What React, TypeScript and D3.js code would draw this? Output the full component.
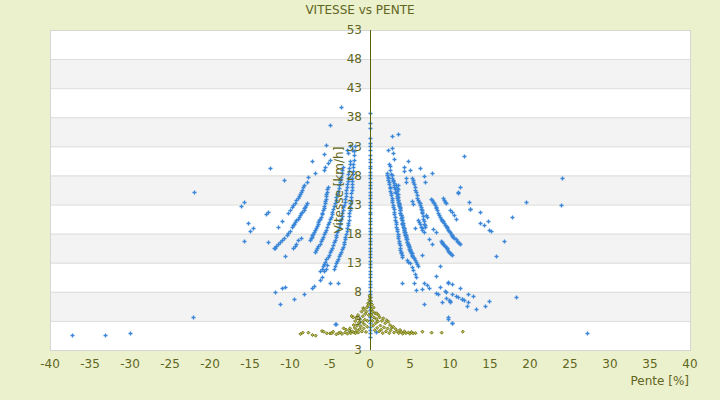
import React, { useEffect, useRef } from "react";
import * as d3 from "d3";

type Pt = [number, number];

const xTicks = [-40, -35, -30, -25, -20, -15, -10, -5, 0, 5, 10, 15, 20, 25, 30, 35, 40];
const yTicks = [-2, 3, 8, 13, 18, 23, 28, 33, 38, 43, 48, 53];
const yTickLabels = ["3", "3", "8", "13", "18", "23", "28", "33", "38", "43", "48", "53"];

// vitesse at zero slope (stack on the axis)
const blueOnAxis = [
	0.3, 0.9, 1.4, 2.0, 2.6, 3.1, 3.7, 4.3, 4.8, 5.4, 6.0, 6.5, 7.1, 7.7, 8.2, 8.8, 9.4, 9.9, 10.5, 11.1, 11.6, 12.2,
	12.8, 13.3, 13.9, 14.5, 15.0, 15.6, 16.2, 16.7, 17.3, 17.9, 18.4, 19.0, 19.6, 20.1, 20.7, 21.3, 21.8, 22.4, 23.0,
	23.5, 24.1, 24.7, 25.2, 25.8, 26.4, 26.9, 27.5, 28.1, 28.6, 29.2, 29.6, 30.3, 30.9, 31.5, 32.3, 33.0, 33.6, 34.4,
	36.1, 37.0, 38.8,
];

// descente (negative slope) arcs
const blueLeftArcs: Pt[] = [
	[-1.9, 33.0], [-1.95, 32.2], [-2.0, 31.5], [-2.05, 30.7], [-2.1, 30.0], [-2.12, 29.4], [-2.15, 28.8], [-2.18, 28.2],
	[-2.2, 27.6], [-2.22, 27.0], [-2.25, 26.5], [-2.28, 26.0], [-2.3, 25.5], [-2.35, 24.9], [-2.4, 24.3], [-2.42, 23.7],
	[-2.45, 23.2], [-2.5, 22.6], [-2.55, 22.1], [-2.58, 21.5], [-2.6, 21.0], [-2.65, 20.4], [-2.7, 19.9], [-2.78, 19.4],
	[-2.85, 18.9], [-2.92, 18.4], [-3.0, 17.9], [-3.08, 17.4], [-3.15, 17.0], [-3.22, 16.6], [-3.3, 16.2], [-3.4, 15.7],
	[-3.5, 15.3], [-3.6, 14.9], [-3.7, 14.5], [-3.82, 14.1], [-3.95, 13.7], [-4.08, 13.3], [-4.2, 12.9], [-4.35, 12.4],
	[-4.5, 12.0],
	[-2.5, 30.5], [-2.55, 29.9], [-2.6, 29.3], [-2.65, 28.7], [-2.7, 28.2], [-2.75, 27.6], [-2.8, 27.1], [-2.85, 26.5],
	[-2.9, 26.0], [-2.95, 25.5], [-3.0, 25.0], [-3.05, 24.5], [-3.1, 24.0], [-3.18, 23.5], [-3.25, 23.0], [-3.32, 22.5],
	[-3.4, 22.0], [-3.48, 21.5], [-3.55, 21.0], [-3.62, 20.5], [-3.7, 20.1], [-3.8, 19.6], [-3.9, 19.2], [-4.0, 18.7],
	[-4.1, 18.3], [-4.2, 17.8], [-4.3, 17.4], [-4.42, 16.9], [-4.55, 16.5], [-4.68, 16.0], [-4.8, 15.6], [-4.92, 15.2],
	[-5.05, 14.8], [-5.18, 14.4], [-5.3, 14.0], [-5.45, 13.6], [-5.6, 13.2], [-5.75, 12.8], [-5.9, 12.4], [-6.05, 12.0],
	[-6.2, 11.6],
	[-3.4, 29.5], [-3.48, 28.9], [-3.55, 28.4], [-3.62, 27.8], [-3.7, 27.3], [-3.78, 26.8], [-3.85, 26.3], [-3.92, 25.8],
	[-4.0, 25.3], [-4.1, 24.8], [-4.2, 24.3], [-4.3, 23.8], [-4.4, 23.3], [-4.5, 22.8], [-4.6, 22.3], [-4.7, 21.8],
	[-4.8, 21.4], [-4.9, 20.9], [-5.0, 20.5], [-5.12, 20.0], [-5.25, 19.6], [-5.38, 19.1], [-5.5, 18.7], [-5.62, 18.3],
	[-5.75, 17.9], [-5.88, 17.5], [-6.0, 17.1], [-6.15, 16.7], [-6.3, 16.3], [-6.45, 15.9], [-6.6, 15.6], [-6.75, 15.2],
	[-6.9, 14.9],
	[-5.3, 26.1], [-5.35, 25.7], [-5.4, 25.2], [-5.45, 24.8], [-5.5, 24.4], [-5.55, 24.0], [-5.6, 23.6], [-5.65, 23.2],
	[-5.7, 22.8], [-5.78, 22.4], [-5.85, 22.0], [-5.95, 21.6], [-6.05, 21.3], [-6.15, 20.9], [-6.25, 20.6], [-6.35, 20.3],
	[-6.45, 20.0], [-6.55, 19.6], [-6.65, 19.3], [-6.78, 18.9], [-6.9, 18.6], [-7.0, 18.3], [-7.1, 18.0], [-7.2, 17.7],
	[-7.3, 17.5], [-7.4, 17.2], [-7.5, 16.9],
	[-10.2, 21.6], [-10.0, 22.1], [-9.8, 22.5], [-9.6, 22.9], [-9.4, 23.3], [-9.2, 23.7], [-9.0, 24.1], [-8.9, 24.5],
	[-8.75, 24.8], [-8.6, 25.2], [-8.5, 25.5], [-8.35, 26.0], [-8.2, 26.4], [-7.9, 26.9], [-7.8, 27.7],
	[-11.9, 15.5], [-11.7, 15.85], [-11.5, 16.2], [-11.25, 16.5], [-11.0, 16.9], [-10.7, 17.3], [-10.4, 17.8],
	[-10.2, 18.1], [-10.0, 18.5], [-9.8, 19.1], [-9.65, 19.4], [-9.5, 19.7], [-9.35, 20.0], [-9.2, 20.3], [-9.05, 20.6],
	[-8.9, 20.9], [-8.75, 21.2], [-8.6, 21.5], [-8.45, 21.8], [-8.3, 22.1], [-8.2, 22.35], [-8.1, 22.6], [-8.0, 22.9],
	[-7.9, 23.2],
	[-9.6, 15.5], [-9.4, 15.9], [-9.2, 16.3], [-8.95, 16.9], [-8.6, 17.2],
];

const blueLeftScatter: Pt[] = [
	[-3.6, 39.7], [-5.0, 36.7], [-5.5, 33.2], [-5.7, 31.7], [-7.2, 30.4], [-12.5, 29.2], [-10.7, 27.2], [-22.0, 25.1],
	[-15.7, 23.4], [-16.1, 22.7], [-13.0, 21.3], [-12.7, 21.7], [-11.0, 20.1], [-11.5, 19.1], [-15.3, 19.9],
	[-15.0, 18.4], [-14.6, 18.9], [-15.8, 16.7], [-12.7, 16.5], [-12.0, 15.5], [-10.6, 14.1], [-5.8, 28.9],
	[-5.6, 29.5], [-5.2, 30.1], [-5.0, 30.7], [-6.9, 28.4], [-2.9, 32.4], [-2.7, 31.9], [-2.5, 33.0], [-2.3, 32.3],
	[-6.25, 10.0], [-6.04, 10.6], [-5.75, 11.5], [-5.5, 12.0], [-5.33, 12.6], [-5.0, 9.5], [-4.0, 9.5], [-11.9, 8.0],
	[-11.0, 8.6], [-10.6, 8.9], [-11.25, 5.9], [-9.5, 6.7], [-8.2, 7.7], [-7.3, 8.6], [-6.96, 9.06], [-22.1, 3.6],
	[-37.2, 0.5], [-33.1, 0.5], [-30.0, 0.9], [-4.35, 2.4], [-4.3, 2.5], [-2.5, 1.3],
];

// montée (positive slope) arcs
const blueRightArcs: Pt[] = [
	[2.1, 28.4], [2.15, 28.1], [2.2, 27.8], [2.25, 27.5], [2.3, 27.2], [2.35, 26.8], [2.4, 26.5], [2.45, 26.1],
	[2.5, 25.8], [2.55, 25.4], [2.6, 25.0], [2.65, 24.6], [2.7, 24.2], [2.75, 23.8], [2.8, 23.4], [2.85, 23.0],
	[2.9, 22.6], [2.95, 22.2], [3.0, 21.8], [3.05, 21.3], [3.1, 20.9], [3.15, 20.4], [3.2, 20.0], [3.25, 19.6],
	[3.3, 19.2], [3.35, 18.8], [3.4, 18.4], [3.45, 18.0], [3.5, 17.6], [3.55, 17.2], [3.6, 16.8], [3.65, 16.4],
	[3.7, 16.0], [3.75, 15.6], [3.8, 15.2], [3.85, 14.9], [3.9, 14.6], [3.95, 14.3], [4.0, 14.0],
	[2.6, 28.3], [2.7, 28.0], [2.8, 27.6], [2.85, 27.3], [2.9, 27.0], [2.95, 26.7], [3.0, 26.4], [3.05, 26.0],
	[3.1, 25.6], [3.18, 25.2], [3.25, 24.9], [3.32, 24.5], [3.4, 24.2], [3.48, 23.8], [3.55, 23.5], [3.6, 23.1],
	[3.65, 22.8], [3.7, 22.4], [3.75, 22.1], [3.8, 21.6], [3.85, 21.2], [3.9, 20.7], [3.95, 20.3], [4.0, 19.9],
	[4.05, 19.6], [4.12, 19.2], [4.2, 18.9], [4.25, 18.6], [4.3, 18.3], [4.35, 18.0], [4.4, 17.8], [4.48, 17.4],
	[4.55, 17.0], [4.62, 16.6], [4.7, 16.3], [4.78, 16.0], [4.85, 15.7], [4.92, 15.4], [5.0, 15.2], [5.1, 14.9],
	[5.2, 14.6], [5.3, 14.3], [5.4, 14.0],
	[3.3, 26.3], [3.35, 25.8], [3.4, 25.3], [3.45, 24.8], [3.5, 24.3], [3.55, 23.8], [3.6, 23.3], [3.65, 22.9],
	[3.7, 22.5], [3.75, 22.0], [3.8, 21.6], [3.87, 21.2], [3.95, 20.8], [4.0, 20.3], [4.08, 19.9], [4.17, 19.4],
	[4.25, 19.0], [4.3, 18.6], [4.375, 18.2], [4.45, 17.8], [4.5, 17.4], [4.58, 17.0], [4.65, 16.6], [4.75, 16.2],
	[4.85, 15.8], [4.95, 15.4], [5.05, 15.0], [5.15, 14.6], [5.3, 14.2], [5.45, 13.8], [5.6, 13.5], [5.75, 13.1],
	[5.9, 12.7], [6.05, 12.4],
	[5.3, 27.5], [5.35, 27.2], [5.4, 26.9], [5.5, 26.5], [5.6, 26.0], [5.67, 25.5], [5.75, 25.1], [5.82, 24.6],
	[5.9, 24.2], [6.0, 23.8], [6.1, 23.5], [6.2, 23.2], [6.25, 22.9], [6.33, 22.6], [6.4, 22.3], [6.46, 22.1],
	[6.5, 21.8], [6.54, 21.5], [6.6, 21.0], [6.67, 20.5], [6.75, 20.1], [6.8, 19.7], [6.85, 19.4], [6.9, 19.1],
	[6.05, 20.4], [6.15, 20.0], [6.25, 19.6], [6.35, 19.2], [6.45, 18.9], [6.55, 18.6], [6.7, 18.3],
	[7.6, 23.9], [7.75, 23.7], [7.9, 23.5], [8.0, 23.2], [8.1, 22.9], [8.2, 22.6], [8.3, 22.4], [8.4, 22.0],
	[8.5, 21.5], [8.6, 21.2], [8.75, 20.9], [8.85, 20.6], [8.96, 20.3], [9.05, 20.2], [9.17, 20.1], [9.27, 19.8],
	[9.375, 19.5], [9.48, 19.35], [9.58, 19.2], [9.68, 18.9], [9.79, 18.6], [9.9, 18.4], [10.0, 18.2], [10.1, 18.0],
	[10.2, 17.8], [10.3, 17.65], [10.4, 17.5], [10.55, 17.25], [10.75, 17.0], [10.85, 16.8], [11.0, 16.6],
	[11.1, 16.45], [11.25, 16.3],
	[8.9, 16.8], [8.96, 16.6], [9.05, 16.4], [9.17, 16.2], [9.27, 16.0], [9.375, 15.8], [9.48, 15.65], [9.58, 15.5],
	[9.68, 15.3], [9.79, 15.1], [9.9, 14.9], [10.0, 14.7], [10.1, 14.5], [10.2, 14.3],
	[9.17, 24.1], [9.3, 23.8], [9.375, 23.5], [9.5, 23.2], [10.0, 22.1], [10.2, 21.8], [10.5, 21.2], [10.75, 20.5],
];

const blueRightScatter: Pt[] = [
	[2.7, 34.8], [3.5, 35.2], [2.3, 32.4], [2.8, 32.7], [2.9, 31.8], [3.0, 30.8], [2.4, 30.0], [2.5, 29.6],
	[2.45, 28.9], [4.2, 29.4], [4.3, 28.8], [4.8, 30.5], [5.0, 28.9], [6.3, 29.2], [6.7, 27.9], [6.9, 26.8],
	[7.8, 28.4], [4.5, 27.5], [4.5, 26.8], [3.5, 26.4], [3.5, 25.6], [11.7, 31.4], [11.3, 26.1], [11.0, 25.0],
	[11.05, 25.1], [12.4, 23.5], [12.5, 22.2], [12.55, 22.3], [13.7, 21.7], [13.8, 19.9], [14.3, 19.5], [14.7, 20.2],
	[14.9, 18.6], [15.1, 18.4], [15.8, 14.15], [16.7, 16.7], [17.7, 20.8], [19.5, 23.4], [23.9, 23.0], [24.0, 27.5],
	[18.2, 7.05], [27.1, 0.86], [10.2, 2.58], [0.7, 1.15], [5.3, 23.6], [5.4, 23.1], [5.6, 18.9], [7.9, 18.8],
	[8.2, 18.2], [7.4, 17.0], [7.7, 16.3], [7.0, 21.2], [7.1, 20.8], [6.5, 14.3], [8.7, 12.4], [8.2, 10.7], [4.0, 9.6],
	[4.6, 13.5], [4.8, 13.2], [5.0, 12.9], [5.2, 12.3], [5.4, 11.8], [5.6, 11.1], [5.8, 10.5], [5.5, 9.6], [5.8, 8.3],
	[6.5, 8.4], [6.7, 9.5], [7.1, 9.1], [7.4, 8.6], [6.8, 5.85], [8.3, 7.75], [8.5, 7.6], [8.8, 8.8], [9.0, 6.2],
	[9.375, 8.15], [9.46, 6.9], [9.875, 6.6], [9.5, 8.0], [9.7, 9.75], [9.8, 9.5], [10.0, 6.3], [10.05, 6.4],
	[10.2, 9.3], [10.2, 7.6], [10.7, 7.3], [11.0, 7.05], [11.2, 8.6], [11.45, 6.8], [11.5, 6.7], [11.75, 6.6],
	[12.1, 5.6], [12.3, 7.7], [12.3, 6.3], [12.9, 7.3], [13.2, 5.0], [14.4, 5.5], [14.9, 6.5], [9.7, 3.7], [9.8, 3.4],
	[10.2, 2.6],
];

// second series (low speeds)
const oliveLeft: Pt[] = [
	[-8.7, 0.75], [-8.4, 0.98], [-7.7, 0.98], [-7.2, 0.58], [-6.8, 0.47], [-6.0, 1.26], [-5.8, 1.15], [-5.4, 0.86],
	[-5.0, 0.86], [-4.8, 0.86], [-4.6, 1.15], [-4.2, 0.69], [-3.9, 0.9], [-3.7, 1.03], [-3.5, 0.75], [-3.3, 1.72],
	[-3.1, 1.0], [-3.0, 1.5], [-2.8, 0.8], [-2.6, 1.3], [-2.5, 1.72], [-2.4, 0.9], [-2.3, 3.84], [-2.2, 1.2],
	[-2.1, 3.6], [-2.05, 2.3], [-1.95, 1.0], [-1.9, 1.8], [-1.85, 2.98], [-1.8, 0.9], [-1.7, 3.55], [-1.65, 1.4],
	[-1.6, 2.2], [-1.5, 4.0], [-1.45, 1.0], [-1.4, 2.7], [-1.3, 1.6], [-1.25, 3.3], [-1.15, 2.1], [-1.05, 4.6],
	[-1.0, 1.2], [-0.95, 2.8], [-0.9, 3.8], [-0.85, 5.2], [-0.8, 1.7], [-0.75, 5.0], [-0.7, 2.4], [-0.65, 3.2],
	[-0.6, 4.2], [-0.5, 1.1], [-0.45, 4.6], [-0.4, 5.3], [-0.35, 2.0], [-0.3, 3.0], [-0.25, 6.0], [-0.2, 5.7],
	[-0.15, 4.0], [-0.1, 6.6], [-0.05, 7.3],
];

const oliveRight: Pt[] = [
	[0.05, 7.0], [0.1, 6.4], [0.15, 5.0], [0.2, 4.0], [0.25, 5.8], [0.3, 3.0], [0.35, 4.6], [0.4, 2.2], [0.45, 5.3],
	[0.5, 3.6], [0.6, 1.4], [0.65, 4.3], [0.7, 2.6], [0.8, 3.3], [0.83, 4.3], [0.9, 1.8], [1.0, 2.9], [1.05, 4.0],
	[1.15, 1.2], [1.2, 3.6], [1.3, 2.2], [1.4, 1.5], [1.5, 3.0], [1.6, 0.9], [1.67, 3.44], [1.75, 1.9], [1.9, 2.6],
	[2.0, 1.2], [2.1, 3.1], [2.2, 1.7], [2.29, 2.87], [2.4, 0.9], [2.5, 2.3], [2.6, 1.4], [2.75, 1.9], [2.9, 2.0],
	[3.0, 1.0], [3.2, 1.6], [3.4, 1.2], [3.6, 0.9], [3.75, 1.44], [3.9, 1.1], [4.1, 0.8], [4.3, 1.2], [4.5, 0.9],
	[4.8, 1.0], [5.0, 0.8], [5.2, 1.1], [5.4, 0.86], [5.7, 0.9], [6.55, 1.15], [7.7, 0.98], [8.96, 0.98], [11.6, 1.15],
];

const textColor = "#5f6622";
const font = "DejaVu Sans, Verdana, sans-serif";

function draw(ref: SVGSVGElement | null) {
	if (!ref) return;
	const svg = d3.select(ref);
	svg.selectAll("*").remove();

	const x = d3.scaleLinear().domain([-40, 40]).range([50, 690]);
	const y = d3.scaleLinear().domain([-2, 53]).range([350, 30]);

	svg.append("rect").attr("width", 720).attr("height", 400).attr("fill", "#ebf0cd");

	// alternating bands
	svg.append("g")
		.selectAll("rect")
		.data(d3.pairs(yTicks))
		.join("rect")
		.attr("x", x(-40))
		.attr("width", x(40) - x(-40))
		.attr("y", (d) => y(d[1]))
		.attr("height", (d) => y(d[0]) - y(d[1]))
		.attr("fill", (_, i) => (i % 2 ? "#f3f3f3" : "#ffffff"));

	svg.append("g")
		.selectAll("line")
		.data(yTicks)
		.join("line")
		.attr("x1", x(-40))
		.attr("x2", x(40))
		.attr("y1", (d) => y(d) + 0.5)
		.attr("y2", (d) => y(d) + 0.5)
		.attr("stroke", "#dcdcdc");

	svg.append("rect")
		.attr("x", x(-40) + 0.5)
		.attr("y", y(53) + 0.5)
		.attr("width", x(40) - x(-40))
		.attr("height", y(-2) - y(53))
		.attr("fill", "none")
		.attr("stroke", "#d6d6d6");

	// blue series
	const blue: Pt[] = [
		...blueOnAxis.map((v) => [0, v] as Pt),
		...blueLeftArcs,
		...blueLeftScatter,
		...blueRightArcs,
		...blueRightScatter,
	];
	svg.append("g")
		.selectAll("path")
		.data(blue)
		.join("path")
		.attr("transform", (d) => `translate(${Math.round(x(d[0])) + 0.5},${Math.round(y(d[1])) + 0.5})`)
		.attr("d", "M-2,0H2M0,-2V2")
		.attr("stroke", "#3a86d8")
		.attr("stroke-width", 1.3);

	// olive series
	svg.append("g")
		.selectAll("path")
		.data([...oliveLeft, ...oliveRight])
		.join("path")
		.attr("transform", (d) => `translate(${x(d[0])},${y(d[1])})`)
		.attr("d", "M0,-1.6L1.6,0L0,1.6L-1.6,0Z")
		.attr("fill", "#b3b64a")
		.attr("stroke", "#5f6300")
		.attr("stroke-width", 0.7);

	// vertical axis at x = 0
	svg.append("line")
		.attr("x1", Math.round(x(0)) + 0.5)
		.attr("x2", Math.round(x(0)) + 0.5)
		.attr("y1", y(53))
		.attr("y2", y(-2))
		.attr("stroke", "#5a6300")
		.attr("stroke-width", 1);

	const txt = (g: d3.Selection<SVGGElement, unknown, null, undefined>) =>
		g.attr("font-family", font).attr("font-size", 12).attr("fill", textColor);

	svg.append("g")
		.call(txt)
		.selectAll("text")
		.data(yTicks)
		.join("text")
		.attr("x", x(0) - 8)
		.attr("y", (d) => y(d))
		.attr("dy", "0.35em")
		.attr("text-anchor", "end")
		.text((_, i) => yTickLabels[i]);

	svg.append("g")
		.call(txt)
		.selectAll("text")
		.data(xTicks)
		.join("text")
		.attr("x", (d) => x(d))
		.attr("y", 364)
		.attr("dy", "0.35em")
		.attr("text-anchor", "middle")
		.text((d) => d);

	const labels = svg.append("g").call(txt);
	labels.append("text").attr("x", 360).attr("y", 10).attr("dy", "0.35em").attr("text-anchor", "middle").text("VITESSE vs PENTE");
	labels.append("text").attr("x", 689).attr("y", 381).attr("dy", "0.35em").attr("text-anchor", "end").text("Pente [%]");
	labels
		.append("text")
		.attr("transform", "translate(339,190) rotate(-90)")
		.attr("dy", "0.35em")
		.attr("text-anchor", "middle")
		.text("Vitesse [km/h]");
}

export default function App() {
	const ref = useRef<SVGSVGElement>(null);
	useEffect(() => {
		document.body.style.margin = "0";
		draw(ref.current);
	}, []);
	return <svg ref={ref} width={720} height={400} style={{ display: "block" }} />;
}
